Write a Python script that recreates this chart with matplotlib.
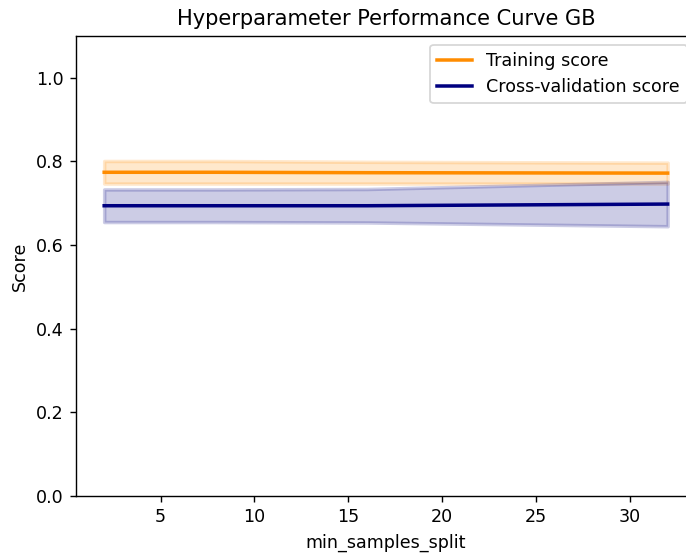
import matplotlib.pyplot as plt
import numpy as np

# validation curve results for min_samples_split
param_range = [2, 4, 8, 16, 32]
train_mean = [0.774, 0.774, 0.774, 0.773, 0.772]
train_std = [0.027, 0.027, 0.027, 0.026, 0.025]
test_mean = [0.694, 0.694, 0.694, 0.694, 0.698]
test_std = [0.039, 0.039, 0.039, 0.040, 0.053]

train_mean = np.array(train_mean)
train_std = np.array(train_std)
test_mean = np.array(test_mean)
test_std = np.array(test_std)

dpi = 126
fig = plt.figure(figsize=(686 / dpi, 557 / dpi), dpi=dpi)
ax = fig.add_axes([0.1108, 0.1095, 0.9035, 0.826])

lw = 2
ax.plot(param_range, train_mean, label="Training score", color="darkorange", lw=lw)
ax.fill_between(param_range, train_mean - train_std, train_mean + train_std,
                alpha=0.2, color="darkorange", lw=lw)
ax.plot(param_range, test_mean, label="Cross-validation score", color="navy", lw=lw)
ax.fill_between(param_range, test_mean - test_std, test_mean + test_std,
                alpha=0.2, color="navy", lw=lw)

ax.set_title("Hyperparameter Performance Curve GB")
ax.set_xlabel("min_samples_split")
ax.set_ylabel("Score")
ax.set_ylim(0.0, 1.1)
ax.legend(loc="upper right")

fig.savefig("out.png", dpi=dpi)
